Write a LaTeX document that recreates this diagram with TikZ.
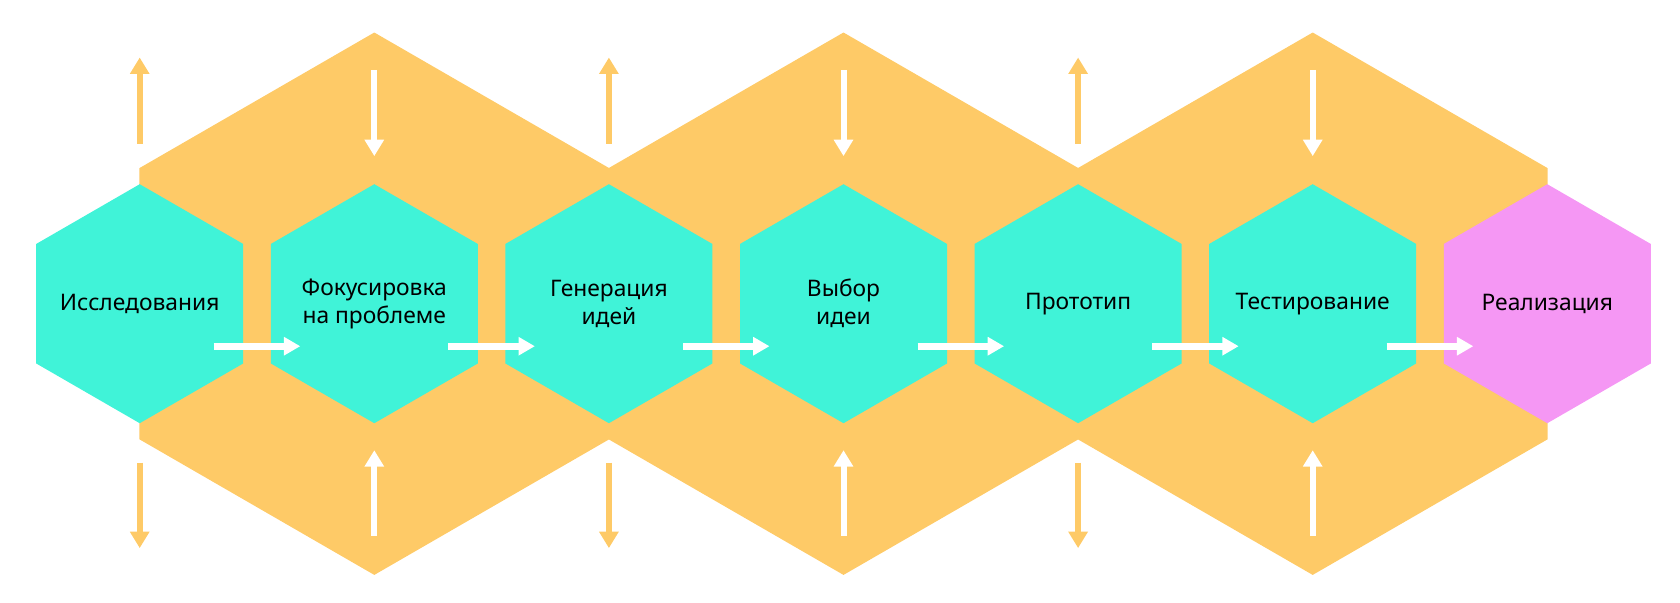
\documentclass[tikz,border=0pt]{standalone}
\usepackage{fontspec}
\setmainfont{Noto Sans}
\usetikzlibrary{arrows.meta,shapes.geometric}

\definecolor{hexorange}{HTML}{FECA67}
\definecolor{hexteal}{HTML}{40F3D8}
\definecolor{hexpink}{HTML}{F597F4}

\tikzset{
  hexbox/.style={regular polygon, regular polygon sides=6, shape border rotate=30, inner sep=0pt, fill=#1},
  stage/.style={hexbox=hexteal, minimum size=119.5pt, label={[stagetext]center:#1}},
  stagetext/.style={align=center, font=\fontsize{11.4}{14}\selectfont, text=black},
  phase/.style={hexbox=hexorange, minimum size=271.2pt},
  flow/.style={white, line width=3.4pt, -{Triangle[length=8.2pt,width=8.8pt]}},
  inarrow/.style={white, line width=3pt, -{Triangle[length=8.2pt,width=9.3pt]}},
  outarrow/.style={hexorange, line width=2.9pt, -{Triangle[length=8.2pt,width=9.3pt]}}
}

\begin{document}
\begin{tikzpicture}[x=0.5pt,y=-0.5pt]
\useasboundingbox (0,0) rectangle (1680,602);
\def \step {234.6}

\foreach \i in {1,...,7} \coordinate (c\i) at ({139.7+\step*(\i-1)},303.7);

% big hexagons behind
\node[phase] (p1) at (c2) {};
\node[phase] (p2) at (c4) {};
\node[phase] (p3) at (c6) {};

% stages
\node[stage={Исследования}] (h1) at (c1) {};
\node[stage={Фокусировка\\на проблеме}] (h2) at (c2) {};
\node[stage={Генерация\\идей}] (h3) at (c3) {};
\node[stage={Выбор\\идеи}] (h4) at (c4) {};
\node[stage={Прототип}] (h5) at (c5) {};
\node[stage={Тестирование}] (h6) at (c6) {};
\node[stage={Реализация}, fill=hexpink] (h7) at (c7) {};

\foreach \i [evaluate=\i as \j using int(\i+1)] in {1,...,6}
  \draw[flow] ([shift={(74,42.5)}]h\i.center) -- ([shift={(-74,42.5)}]h\j.center);

\foreach \i in {2,4,6} {
  \draw[inarrow] ([yshift=233.9*0.5pt]h\i.center) -- ([yshift=147.6*0.5pt]h\i.center);
  \draw[inarrow] ([yshift=-232.5*0.5pt]h\i.center) -- ([yshift=-146.5*0.5pt]h\i.center);
}
\foreach \i in {1,3,5} {
  \draw[outarrow] ([yshift=159.8*0.5pt]h\i.center) -- ([yshift=246.2*0.5pt]h\i.center);
  \draw[outarrow] ([yshift=-158.8*0.5pt]h\i.center) -- ([yshift=-244.4*0.5pt]h\i.center);
}

\end{tikzpicture}
\end{document}
